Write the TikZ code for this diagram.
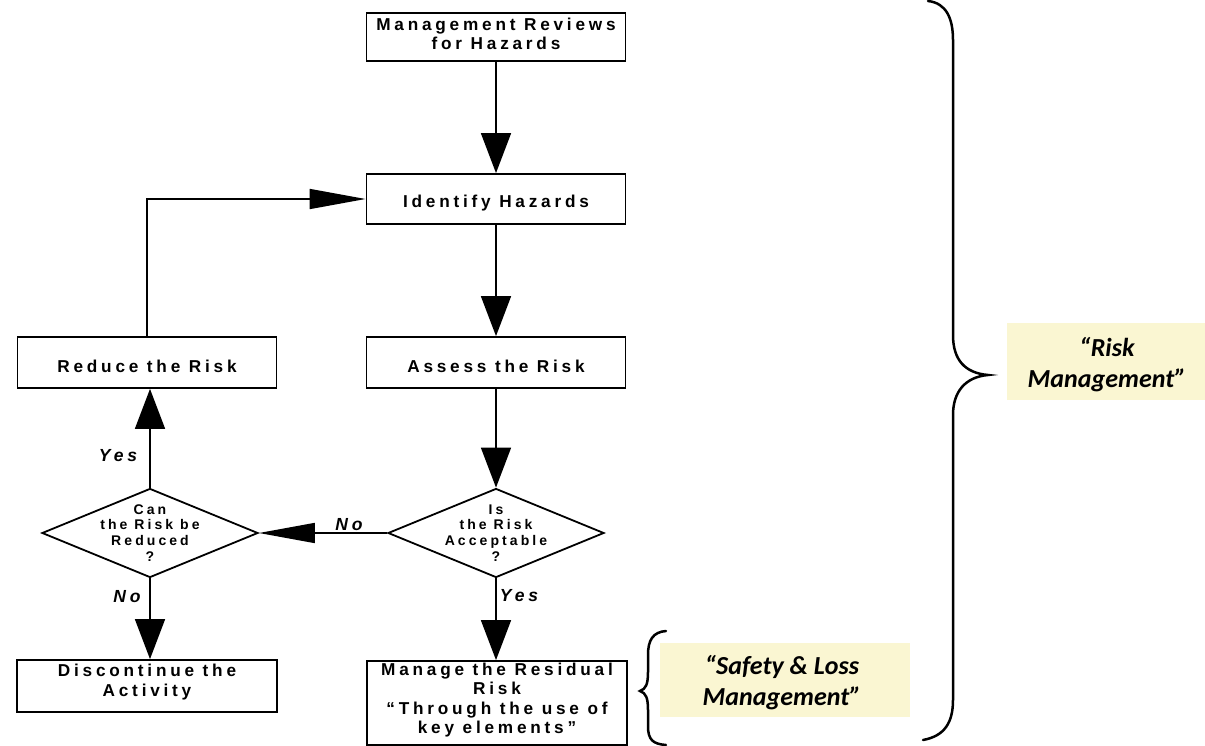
\documentclass[tikz,border=0pt]{standalone}
\usepackage{fontspec}
\setmainfont{Liberation Sans}
\newfontfamily\flowfont[LetterSpace=22]{Liberation Sans}
\newfontfamily\calfont{Carlito}
\usetikzlibrary{arrows.meta,shapes.geometric}
\definecolor{paleyellow}{RGB}{250,246,210}
\tikzset{
  stepbox/.style={draw, line width=1.8pt, minimum width=259pt, minimum height=50pt, inner sep=0pt,
    align=center, font=\flowfont\bfseries\fontsize{17.2}{19.5}\selectfont},
  dia/.style={draw, diamond, line width=1.8pt, minimum width=216pt, minimum height=89pt, inner sep=0pt},
  diatext/.style={align=center, inner sep=0pt, font=\flowfont\bfseries\fontsize{14}{15.8}\selectfont},
  varrow/.style={line width=1.6pt, -{Triangle[length=40pt,width=30pt]}},
  harrow/.style={line width=1.6pt, -{Triangle[length=56pt,width=20pt]}},
  lbl/.style={inner sep=0pt, font=\flowfont\bfseries\itshape\fontsize{17.5}{18}\selectfont},
  note/.style={fill=paleyellow, inner sep=0pt, align=center,
    font=\calfont\bfseries\itshape\fontsize{26}{31}\selectfont},
  bracepath/.style={line width=2.5pt, line cap=round}
}
\begin{document}
\begin{tikzpicture}[x=1pt,y=-1pt]
\useasboundingbox (0,0) rectangle (1205,746);
% boxes
\node[stepbox, minimum height=48pt] (mr0) at (496,37) {};
\node[stepbox, draw=none, minimum height=0pt, minimum width=0pt] (mr0t) at (496,34) {Management Reviews\\for Hazards};
\node[stepbox] (ih) at (496,199) {};
\node[stepbox, draw=none, minimum height=0pt, minimum width=0pt] (iht) at (496,203) {Identify Hazards};
\node[stepbox, minimum height=51pt] (ar) at (496,362.5) {};
\node[stepbox, draw=none, minimum height=0pt, minimum width=0pt] (art) at (496,366) {Assess the Risk};
\node[stepbox, minimum height=51pt] (rr) at (147,362.5) {};
\node[stepbox, draw=none, minimum height=0pt, minimum width=0pt] (rrt) at (147,366) {Reduce the Risk};
\node[dia] (d1) at (496,533) {};
\node[diatext] (d1t) at (d1.center) {Is\\the Risk\\Acceptable\\?};
\node[dia] (d2) at (150,533) {};
\node[diatext] (d2t) at (d2.center) {Can\\the Risk be\\Reduced\\?};
\node[stepbox, minimum height=52pt, minimum width=260pt] (dc) at (147,686) {};
\node[stepbox, draw=none, minimum height=0pt, minimum width=0pt] (dct) at (147,682) {Discontinue the\\Activity};
\node[stepbox, minimum height=84pt, minimum width=260pt] (mg) at (497,703) {};
\node[stepbox, draw=none, minimum height=0pt, minimum width=0pt] (mgt) at (497,700) {Manage the Residual\\Risk\\“Through the use of\\key elements”};
% connectors
\draw[varrow] (mr0.south) -- (mr0.south |- ih.north);
\draw[varrow] (ih.south) -- (ih.south |- ar.north);
\draw[varrow] (ar.south) -- (d1.north);
\draw[harrow] (d1.west) -- (d2.east);
\draw[varrow] (d2.north) -- (d2.north |- rr.south);
\draw[varrow] (d2.south) -- (d2.south |- dc.north);
\draw[varrow] (d1.south) -- (d1.south |- mg.north);
\draw[harrow] (rr.north) |- (ih.west);
% labels
\node[lbl] (yes1) at (118,456) {Yes};
\node[lbl] (no1) at (349,525) {No};
\node[lbl] (no2) at (127,597) {No};
\node[lbl] (yes2) at (519,596) {Yes};
% notes
\node[note, minimum width=198pt, minimum height=77pt] (rm) at (1106,361.5) {};
\node[note, fill=none] (rmt) at (1107,365) {“Risk\\Management”};
\node[note, minimum width=250pt, minimum height=74pt] (sl) at (785,680) {};
\node[note, fill=none] (slt) at (782,683) {“Safety \& Loss\\Management”};
% big brace
\draw[bracepath] (928,1) .. controls (946,3) and (953,18) .. (953,40)
  -- (953,335) .. controls (953,360) and (965,373) .. (988,375)
  .. controls (965,377) and (953,392) .. (953,415)
  -- (953,700) .. controls (953,722) and (945,736) .. (923,740);
% small brace
\draw[bracepath] (666,631) .. controls (653,632) and (648,640) .. (648,655)
  -- (648,672) .. controls (648,684) and (646,689) .. (640,691)
  .. controls (646,693) and (648,698) .. (648,710)
  -- (648,726) .. controls (648,740) and (653,744) .. (666,745);
\end{tikzpicture}
\end{document}
